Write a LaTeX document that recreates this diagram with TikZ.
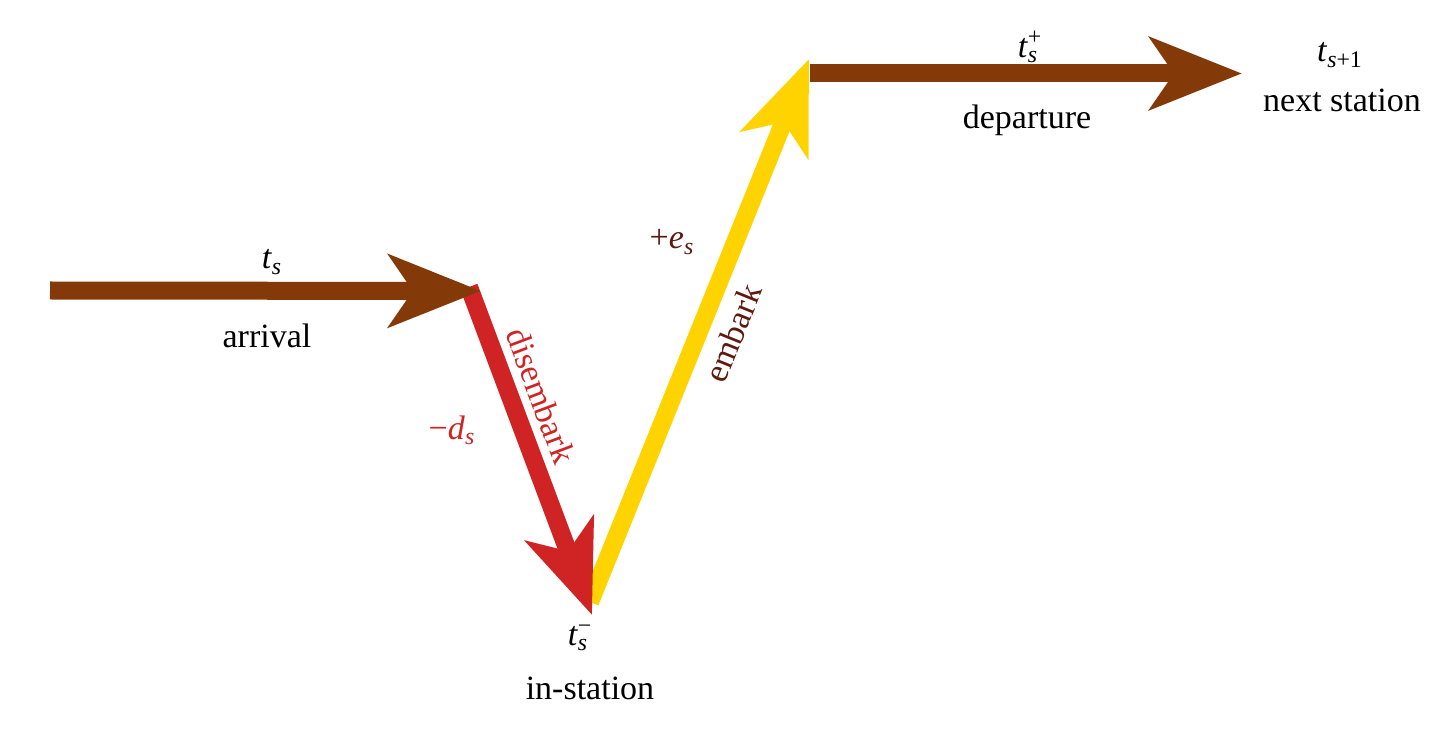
\documentclass[tikz,border=0pt]{standalone}
\usepackage{fontspec}
\setmainfont{Liberation Serif}[Ligatures=TeX]
\usetikzlibrary{arrows.meta}
\definecolor{brownA}{HTML}{843A08}
\definecolor{redA}{HTML}{D02424}
\definecolor{yellowA}{HTML}{FFD300}
\definecolor{maroonA}{HTML}{5E1A0E}
\newcommand\tsub[1]{\textit{t}\textsubscript{#1}}
\newcommand\tsupsub[1]{\textit{t}\rlap{\textsuperscript{#1}}\textsubscript{\textit{s}}}
\begin{document}
\begin{tikzpicture}[x=0.5pt,y=-0.5pt,
  bigarrow/.style={line width=9pt,-{Stealth[length=46pt,width=36pt,inset=12pt]}},
  lbl/.style={font=\fontsize{17}{20}\selectfont,inner sep=0pt}]
\useasboundingbox (0,0) rectangle (1456,732);
% points
\coordinate (a0) at (50,290.5);
\coordinate (a1) at (481,291);
\coordinate (d0) at (469,287);
\coordinate (d1) at (592,615);
\coordinate (e0) at (590,602);
\coordinate (e1) at (809,59);
\coordinate (p0) at (810,73.5);
\coordinate (p1) at (1242,73.5);
% arrows
\draw[bigarrow,yellowA] (e0) -- (e1);
\draw[bigarrow,redA] (d0) -- (d1);
\draw[bigarrow,brownA] (a0) -- (a1);
\draw[bigarrow,brownA] (p0) -- (p1);
% labels
\node[lbl] (lts) at (272,262) {\tsub{\textit{s}}};
\node[lbl] (larr) at (267,336) {arrival};
\node[lbl,text=redA] (lds) at (452,430) {−\textit{d}\textsubscript{\textit{s}}};
\node[lbl,text=redA,rotate=-69.4] (ldis) at (541,396) {disembark};
\node[lbl,text=maroonA] (les) at (672,242) {+\textit{e}\textsubscript{\textit{s}}};
\node[lbl,text=maroonA,rotate=68] (lemb) at (733,333) {embark};
\node[lbl] (ltm) at (578,638) {\tsupsub{−}};
\node[lbl] (lin) at (590,688) {in-station};
\node[lbl] (ltp) at (1028,47) {\tsupsub{+}};
\node[lbl] (ldep) at (1027,120) {departure};
\node[lbl] (ltn) at (1340,55) {\tsub{\textit{s}+1}};
\node[lbl] (lnext) at (1342,100) {next station};
\end{tikzpicture}
\end{document}
